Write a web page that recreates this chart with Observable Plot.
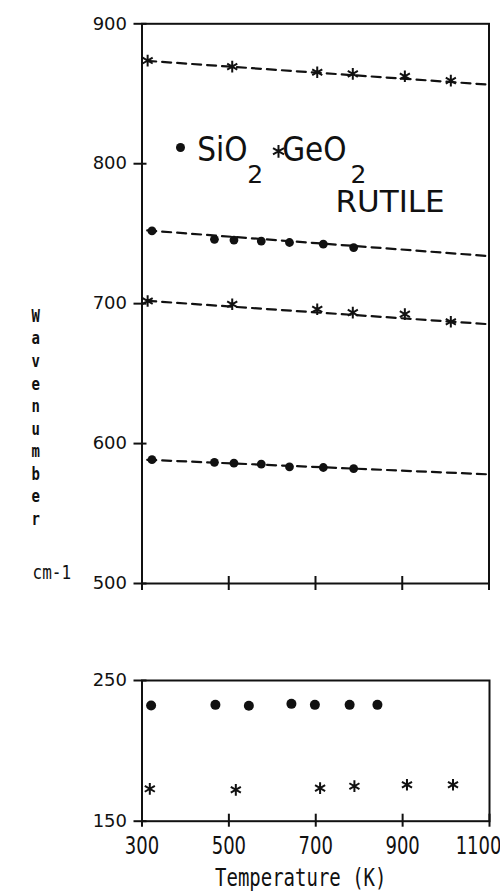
<!DOCTYPE html>
<html><head><meta charset="utf-8">
<script src="https://cdn.jsdelivr.net/npm/d3@7"></script>
<script src="https://cdn.jsdelivr.net/npm/@observablehq/plot@0.6"></script>
<style>
body{margin:0;background:#fff;}
#wrap{position:relative;width:500px;height:891px;overflow:hidden;background:#fff;}
#top,#bot{position:absolute;left:0;}
#top{top:0}
#bot{top:600px}
svg{overflow:visible}
</style></head><body><div id="wrap"><div id="top"></div><div id="bot"></div></div>
<script>
// ---- data (upper panel) ----
const geoTemp = [313, 508, 704, 786, 906, 1012];
const geoHigh = [873.7, 869.4, 865.4, 864.2, 862.5, 859.4];
const geoLow = [701.9, 699.6, 696.0, 693.6, 692.5, 687.1];
const sioTemp = [323, 467, 512, 575, 640, 718, 788];
const sioHigh = [752.0, 746.0, 745.4, 744.7, 743.7, 742.5, 740.1];
const sioLow = [588.5, 586.6, 586.0, 585.3, 583.4, 582.9, 582.1];
// dashed fitted lines
const fitTemp = [312, 1100];
const geoHighFit = [873.5, 856.5];
const sioHighFit = [752.3, 734.0];
const geoLowFit = [702.0, 685.3];
const sioLowFit = [588.4, 578.0];
// ---- data (lower panel) ----
const sioTempB = [321, 469, 546, 644, 698, 778, 842];
const sioB = [232.2, 232.7, 232.0, 233.4, 232.7, 232.7, 232.7];
const geoTempB = [318, 516, 710, 789, 910, 1016];
const geoB = [173.0, 172.3, 173.5, 174.9, 175.9, 175.9];
// ---- ticks and texts ----
const yTicksTop = [500, 600, 700, 800, 900];
const yTicksBottom = [150, 250];
const xTicks = [300, 500, 700, 900, 1100];
const yTitle = "Wavenumber";
const yUnit = "cm-1";
const xTitle = "Temperature (K)";
const legendA = "SiO", legendB = "GeO", sub = "2", phase = "RUTILE";

const ink = "#111";
const sans = "'DejaVu Sans', sans-serif";
const mono = "'DejaVu Sans Mono', monospace";

const rows = (ts, vs, s) => ts.map((t, i) => ({t, v: vs[i], s}));
const fits = [
  ...rows(fitTemp, geoHighFit, "a"), ...rows(fitTemp, sioHighFit, "b"),
  ...rows(fitTemp, geoLowFit, "c"), ...rows(fitTemp, sioLowFit, "d")
];
const geoPts = [...rows(geoTemp, geoHigh, "g1"), ...rows(geoTemp, geoLow, "g2")];
const sioPts = [...rows(sioTemp, sioHigh, "s1"), ...rows(sioTemp, sioLow, "s2")];

const TL = {frameAnchor: "top-left"};
const topChart = Plot.plot({
  width: 500, height: 600,
  marginLeft: 141.5, marginRight: 11.5, marginTop: 23.3, marginBottom: 17,
  style: {background: "white", color: ink},
  x: {domain: [300, 1100]},
  y: {domain: [500, 900]},
  marks: [
    Plot.frame({stroke: ink, strokeWidth: 2}),
    Plot.axisY(yTicksTop, {tickSize: 13, dx: 5, fill: "none", strokeWidth: 2, label: null}),
    Plot.axisY(yTicksTop, {tickSize: 0, tickPadding: 15, stroke: "none", fontSize: 18, fontFamily: sans, label: null, tickFormat: d => String(d)}),
    Plot.axisX(xTicks, {tickSize: 14, dy: -7, fill: "none", strokeWidth: 2, label: null}),
    Plot.line(fits, {x: "t", y: "v", z: "s", stroke: ink, strokeWidth: 2.2, strokeDasharray: "9,6"}),
    Plot.dot(sioPts, {x: "t", y: "v", r: 4.4, fill: ink}),
    Plot.dot(geoPts, {x: "t", y: "v", r: 5.5, symbol: "asterisk", stroke: ink, strokeWidth: 2}),
    // legend
    Plot.dot([0], {...TL, dx: 38.5, dy: 123.7, r: 4.5, fill: ink}),
    Plot.text([legendA], {...TL, dx: 55.2, dy: 136.7, textAnchor: "start", lineAnchor: "bottom", fontSize: 34, fontFamily: sans, fill: ink}),
    Plot.text([sub], {...TL, dx: 105.2, dy: 159, textAnchor: "start", lineAnchor: "bottom", fontSize: 25, fontFamily: sans, fill: ink}),
    Plot.dot([0], {...TL, dx: 136.5, dy: 127.5, r: 6, symbol: "asterisk", stroke: ink, strokeWidth: 2}),
    Plot.text([legendB], {...TL, dx: 140.2, dy: 136.7, textAnchor: "start", lineAnchor: "bottom", fontSize: 34, fontFamily: sans, fill: ink}),
    Plot.text([sub], {...TL, dx: 208.5, dy: 159, textAnchor: "start", lineAnchor: "bottom", fontSize: 25, fontFamily: sans, fill: ink}),
    Plot.text([phase], {...TL, dx: 193.5, dy: 188.5, textAnchor: "start", lineAnchor: "bottom", fontSize: 31, fontFamily: sans, fill: ink}),
    // y title
    Plot.text([yTitle.split("").join("\n")], {...TL, dx: -110.5, dy: 282, lineAnchor: "top", lineHeight: 1.24, fontSize: 14, fontFamily: mono, fontWeight: "bold", fill: ink}),
    Plot.text([yUnit], {...TL, dx: -109.5, dy: 548.7, lineAnchor: "middle", fontSize: 16, fontFamily: mono, fill: ink})
  ]
});

const botChart = Plot.plot({
  width: 500, height: 291,
  marginLeft: 141.5, marginRight: 11, marginTop: 80, marginBottom: 70.3,
  style: {background: "white", color: ink},
  x: {domain: [300, 1100]},
  y: {domain: [150, 250]},
  marks: [
    Plot.frame({stroke: ink, strokeWidth: 2}),
    Plot.axisY(yTicksBottom, {tickSize: 13, dx: 5, fill: "none", strokeWidth: 2, label: null}),
    Plot.axisY(yTicksBottom, {tickSize: 0, tickPadding: 15, stroke: "none", fontSize: 18, fontFamily: sans, label: null, tickFormat: d => String(d)}),
    Plot.axisX(xTicks, {tickSize: 13, dy: -7, fill: "none", strokeWidth: 2, label: null}),
    Plot.text(xTicks.slice(0, 4), {x: d => d, text: d => String(d), frameAnchor: "bottom", dy: 25, lineAnchor: "middle", fontSize: 18, fontFamily: sans, fill: ink}),
    Plot.text(xTicks.slice(4), {x: d => d, text: d => String(d), frameAnchor: "bottom", dx: -11, dy: 25, lineAnchor: "middle", fontSize: 18, fontFamily: sans, fill: ink}),
    Plot.text([xTitle], {frameAnchor: "bottom", dx: -15, dy: 57, lineAnchor: "middle", fontSize: 19, fontFamily: mono, fill: ink}),
    Plot.dot(rows(sioTempB, sioB, "s"), {x: "t", y: "v", r: 5, fill: ink}),
    Plot.dot(rows(geoTempB, geoB, "g"), {x: "t", y: "v", r: 5.5, symbol: "asterisk", stroke: ink, strokeWidth: 2})
  ]
});

document.getElementById("top").appendChild(topChart);
document.getElementById("bot").appendChild(botChart);

// stretch some texts (plotter-style tall glyphs)
function scaleText(svg, match, sx, sy) {
  d3.select(svg).selectAll("text").filter(function() { return match(this.textContent); })
    .attr("transform", function() {
      return (this.getAttribute("transform") || "") + ` scale(${sx},${sy})`;
    });
}
const xLabelSet = new Set(xTicks.map(String));
scaleText(topChart, s => s === yTitle, 1, 1.3);
scaleText(topChart, s => s === yUnit, 1, 1.25);
scaleText(topChart, s => s === legendA || s === legendB, 0.87, 1);
scaleText(botChart, s => xLabelSet.has(s), 1, 1.4);
scaleText(botChart, s => s === xTitle, 1, 1.3);
</script>
</body></html>
